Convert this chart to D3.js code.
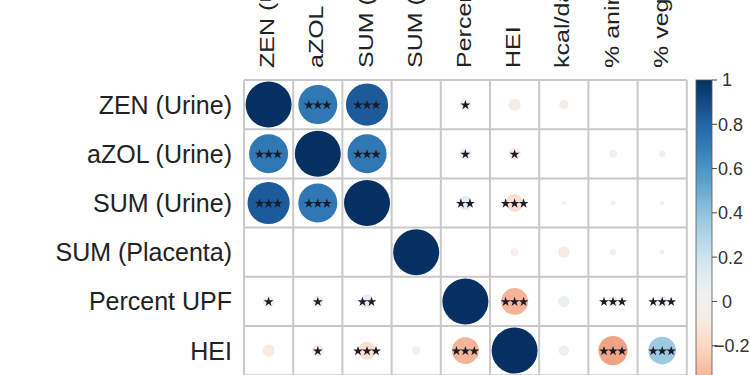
<!DOCTYPE html>
<html>
<head>
<meta charset="utf-8">
<script src="https://cdn.jsdelivr.net/npm/d3@7"></script>
<style>
  body { margin: 0; background: #fff; }
  text { font-family: "Liberation Sans", Arial, sans-serif; fill: #222; }
</style>
</head>
<body>
<script>
// variables shown in the crop
const rowLabels = ["ZEN (Urine)", "aZOL (Urine)", "SUM (Urine)", "SUM (Placenta)", "Percent UPF", "HEI"];
const colLabels = ["ZEN (Urine)", "aZOL (Urine)", "SUM (Urine)", "SUM (Placenta)", "Percent UPF", "HEI",
                   "kcal/day", "% animal protein", "% vegetable protein"];

// correlations, one array per row
const zenRow   = [1.00, 0.72, 0.84, 0.00, 0.06, -0.07, -0.04, 0.00, 0.00];
const azolRow  = [0.72, 1.00, 0.72, 0.00, 0.06, -0.07, 0.00, -0.03, 0.02];
const sumuRow  = [0.84, 0.72, 1.00, 0.00, 0.09, -0.15, -0.01, 0.01, -0.01];
const sumpRow  = [0.00, 0.00, 0.00, 1.00, 0.00, -0.03, -0.06, -0.02, 0.01];
const upfRow   = [0.06, 0.06, 0.09, 0.00, 1.00, -0.34, 0.06, -0.05, 0.06];
const heiRow   = [-0.07, -0.07, -0.15, -0.03, -0.34, 1.00, -0.05, -0.40, 0.36];
const corr = [zenRow, azolRow, sumuRow, sumpRow, upfRow, heiRow];

// number of significance stars per cell
const zenStars  = [0, 3, 3, 0, 1, 0, 0, 0, 0];
const azolStars = [3, 0, 3, 0, 1, 1, 0, 0, 0];
const sumuStars = [3, 3, 0, 0, 2, 3, 0, 0, 0];
const sumpStars = [0, 0, 0, 0, 0, 0, 0, 0, 0];
const upfStars  = [1, 1, 2, 0, 0, 3, 0, 3, 3];
const heiStars  = [0, 1, 3, 0, 3, 0, 0, 3, 3];
const stars = [zenStars, azolStars, sumuStars, sumpStars, upfStars, heiStars];

const legendTicks = [-1, -0.8, -0.6, -0.4, -0.2, 0, 0.2, 0.4, 0.6, 0.8, 1];

const W = 750, H = 375;
const cell = 49.2, x0 = 244, y0 = 80;

const svg = d3.select("body").append("svg")
    .attr("width", W)
    .attr("height", H)
    .attr("xmlns", "http://www.w3.org/2000/svg");

const x = d3.scaleBand().domain(colLabels).range([x0, x0 + cell * colLabels.length]);
// full matrix is 9 x 9, only the first rows fit in the picture
const y = d3.scaleBand().domain(d3.range(colLabels.length)).range([y0, y0 + cell * colLabels.length]);
const color = v => d3.interpolateRdBu((v + 1) / 2);
const rad = d3.scaleSqrt().domain([0, 1]).range([0, 23]);

const cells = [];
corr.forEach((row, i) => row.forEach((v, j) => cells.push({i, j, v, s: stars[i][j]})));

// circles
svg.append("g").selectAll("circle")
    .data(cells)
    .enter()
    .append("circle")
    .attr("cx", d => x(colLabels[d.j]) + x.bandwidth() / 2)
    .attr("cy", d => y(d.i) + y.bandwidth() / 2)
    .attr("r", d => rad(Math.abs(d.v)))
    .style("fill", d => color(d.v));

// grid
const grid = svg.append("g").attr("stroke", "#c9c9c9").attr("stroke-width", 2);
const gx = d3.range(colLabels.length + 1).map(k => x0 + k * cell);
const gy = d3.range(colLabels.length + 1).map(k => y0 + k * cell);
grid.selectAll(".v").data(gx).enter().append("line")
    .attr("x1", d => d).attr("x2", d => d)
    .attr("y1", gy[0]).attr("y2", gy[gy.length - 1]);
grid.selectAll(".h").data(gy).enter().append("line")
    .attr("y1", d => d).attr("y2", d => d)
    .attr("x1", gx[0]).attr("x2", gx[gx.length - 1]);

// stars
const starPath = d3.symbol(d3.symbolStar).size(30);
const starData = [];
cells.forEach(d => {
    for (let k = 0; k < d.s; k++) starData.push({d, k});
});
svg.append("g").selectAll("path")
    .data(starData)
    .enter()
    .append("path")
    .attr("d", starPath)
    .attr("transform", e => {
        const cx = x(colLabels[e.d.j]) + x.bandwidth() / 2 + (e.k - (e.d.s - 1) / 2) * 9;
        const cy = y(e.d.i) + y.bandwidth() / 2 + 0.5;
        return `translate(${cx},${cy})`;
    })
    .style("fill", "#1c1c28");

// row labels
svg.append("g").selectAll("text")
    .data(rowLabels)
    .enter()
    .append("text")
    .attr("x", 232)
    .attr("y", (d, i) => y(i) + y.bandwidth() / 2)
    .attr("dy", "0.36em")
    .attr("text-anchor", "end")
    .style("font-size", "25px")
    .text(d => d);

// column labels
svg.append("g").selectAll("text")
    .data(colLabels)
    .enter()
    .append("text")
    .attr("transform", d => `translate(${x(d) + x.bandwidth() / 2 - 2},68) scale(0.84,1) rotate(-90)`)
    .attr("dy", "0.36em")
    .attr("text-anchor", "start")
    .style("font-size", "25px")
    .text(d => d);

// colour legend
const ly = d3.scaleLinear().domain([1, -1]).range([y0, y0 + cell * colLabels.length]);
const defs = svg.append("defs");
const grad = defs.append("linearGradient")
    .attr("id", "rdbu").attr("x1", 0).attr("x2", 0).attr("y1", 0).attr("y2", 1);
grad.selectAll("stop")
    .data(d3.range(0, 1.0001, 0.02))
    .enter()
    .append("stop")
    .attr("offset", d => d)
    .attr("stop-color", d => color(1 - 2 * d));

svg.append("rect")
    .attr("x", 696)
    .attr("y", ly(1))
    .attr("width", 16)
    .attr("height", ly(-1) - ly(1))
    .style("fill", "url(#rdbu)")
    .style("stroke", "#555")
    .style("stroke-width", 0.8);

const lg = svg.append("g");
lg.selectAll("line")
    .data(legendTicks)
    .enter()
    .append("line")
    .attr("x1", 712).attr("x2", 717)
    .attr("y1", d => ly(d)).attr("y2", d => ly(d))
    .attr("stroke", "#444");
lg.selectAll("text")
    .data(legendTicks)
    .enter()
    .append("text")
    .attr("x", d => d < 0 ? 714 : (d === 0 || d === 1 ? 722 : 718))
    .attr("y", d => ly(d))
    .attr("dy", "0.36em")
    .style("font-size", "18px")
    .style("fill", "#333")
    .text(d => d3.format("")(d));
</script>
</body>
</html>
